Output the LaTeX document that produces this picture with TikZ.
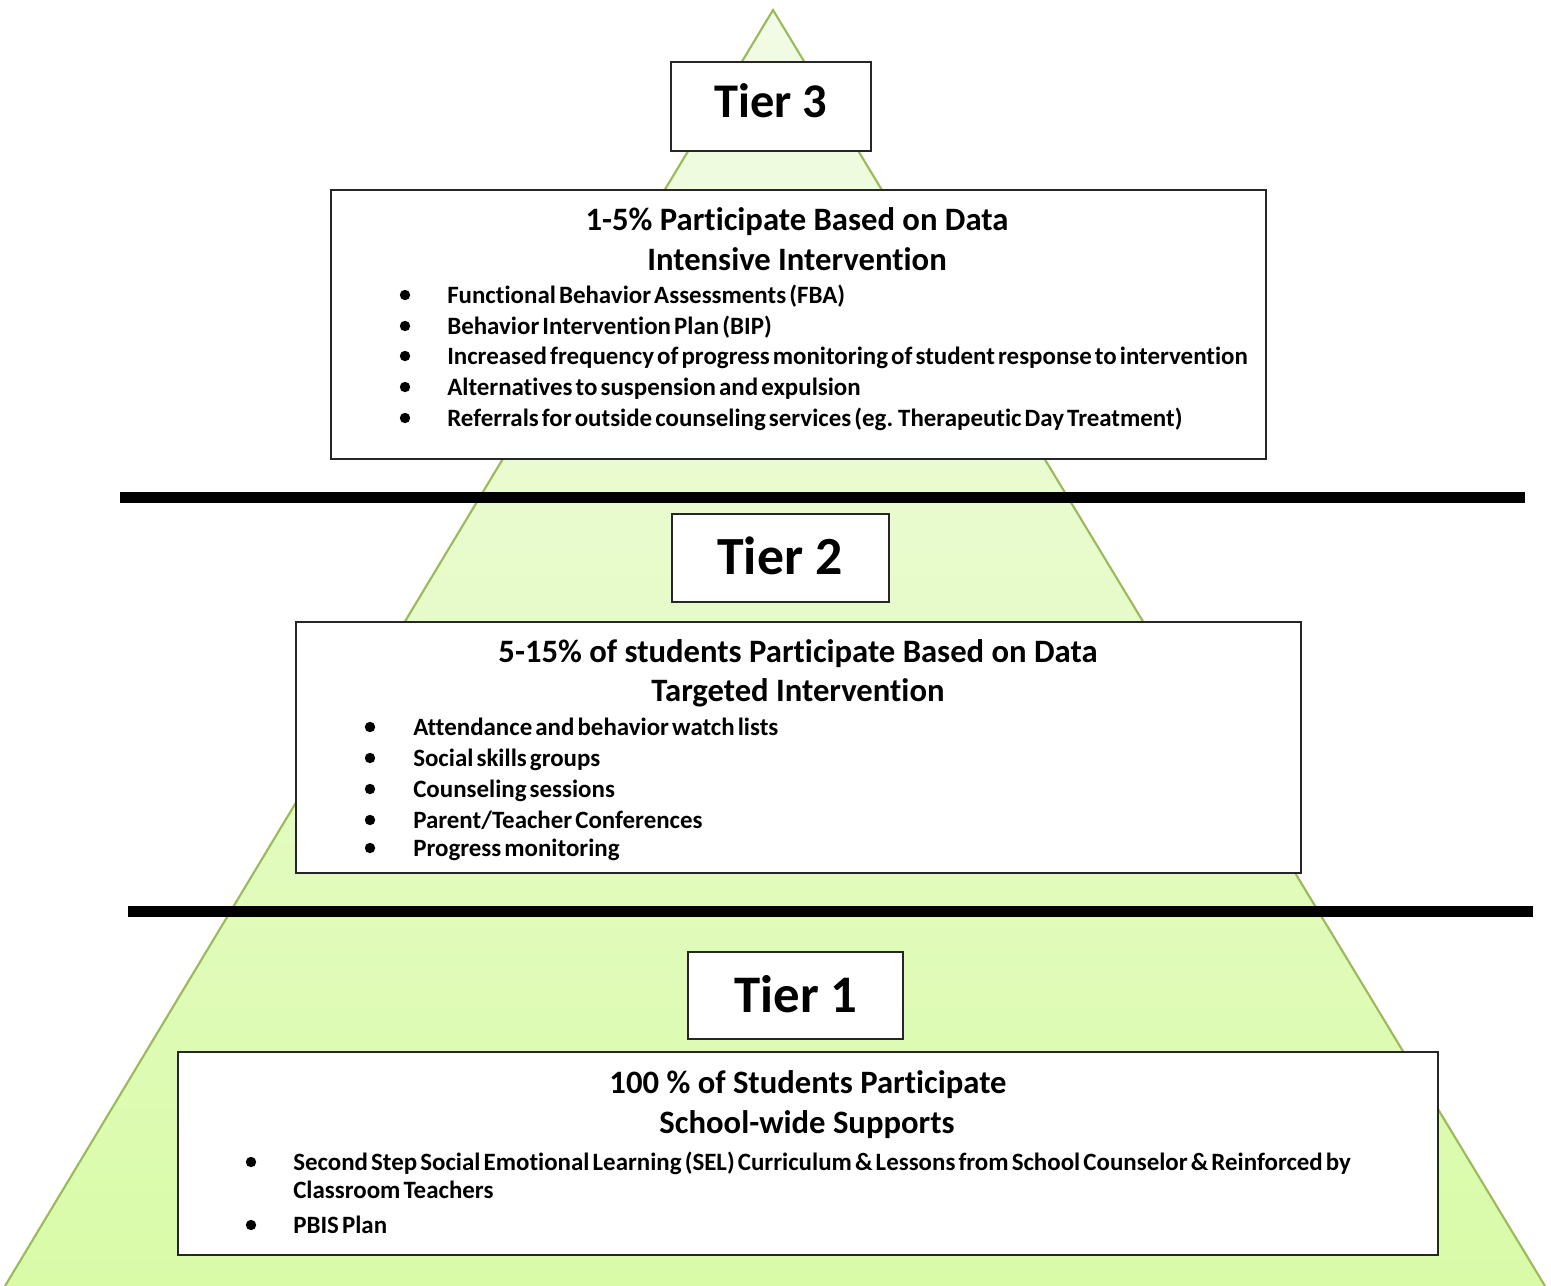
\documentclass[tikz,border=0pt]{standalone}
\usepackage{fontspec}
\setmainfont{Carlito}[Ligatures=NoCommon]
\newfontfamily\tightfont{Carlito}[WordSpace=0.55, Ligatures=NoCommon]
\definecolor{pyrtop}{RGB}{242,251,230}
\definecolor{pyrbot}{RGB}{217,251,168}
\definecolor{pyredge}{RGB}{155,187,89}
\tikzset{
  box/.style={draw=black!85, line width=1.6pt, fill=white, inner sep=0pt, outer sep=0pt, anchor=north west},
  tierlabel/.style={font=\bfseries\fontsize{40.3}{42}\selectfont, anchor=base, inner sep=0pt},
  heading/.style={font=\bfseries\fontsize{24.5}{28}\selectfont, anchor=base, inner sep=0pt},
  item/.style={font=\tightfont\bfseries\fontsize{18.7}{22}\selectfont, anchor=base west, inner sep=0pt},
  dot/.style={circle, fill=black, inner sep=0pt, minimum size=7.8pt},
  bar/.style={line width=8.3pt, black},
}
\begin{document}
\begin{tikzpicture}[x=0.75pt, y=-0.75pt]
\useasboundingbox (0,0) rectangle (1551,1285);
\begin{scope}
\clip (0,0) rectangle (1551,1285);
\coordinate (apex) at (773,10);
\coordinate (bl) at (5,1286);
\coordinate (br) at (1545,1286);
\shade[top color=pyrtop, bottom color=pyrbot] (apex) -- (br) -- (bl) -- cycle;
\draw[pyredge, line width=1.6pt] (bl) -- (apex) -- (br);
\end{scope}
% bars
\coordinate (b1l) at (120,497.5); \coordinate (b1r) at (1525,497.5);
\coordinate (b2l) at (128,911.5); \coordinate (b2r) at (1533,911.5);
\draw[bar] (b1l) -- (b1r);
\draw[bar] (b2l) -- (b2r);
% Tier 3
\node[box, minimum width=200*0.75pt, minimum height=89*0.75pt] (t3box) at (671,62) {};
\node[tierlabel, font=\bfseries\fontsize{36.3}{40}\selectfont] (t3) at (771,117) {Tier 3};
\node[box, minimum width=935*0.75pt, minimum height=269*0.75pt] (boxA) at (331,190) {};
\node[heading] (hA1) at (797,230.5) {1-5\% Participate Based on Data};
\node[heading] (hA2) at (797,270.5) {Intensive Intervention};
\foreach \y/\t [count=\i] in {295/{Functional Behavior Assessments (FBA)},326/{Behavior Intervention Plan (BIP)},356/{Increased frequency of progress monitoring of student response to intervention},387/{Alternatives to suspension and expulsion},418/{Referrals for outside counseling services (eg. Therapeutic Day Treatment)}}{
  \node[dot] (dA\i) at (405,\y) {};
  \node[item] (iA\i) at (447,\y+8) {\t};
}
% Tier 2
\node[box, minimum width=217*0.75pt, minimum height=88*0.75pt] (t2box) at (672,514) {};
\node[tierlabel] (t2) at (780,574) {Tier 2};
\node[box, minimum width=1005*0.75pt, minimum height=251*0.75pt] (boxB) at (296,622) {};
\node[heading] (hB1) at (798,662.5) {5-15\% of students Participate Based on Data};
\node[heading] (hB2) at (798,701.5) {Targeted Intervention};
\foreach \y/\t [count=\i] in {727/{Attendance and behavior watch lists},758/{Social skills groups},789/{Counseling sessions},820/{Parent/Teacher Conferences},848/{Progress monitoring}}{
  \node[dot] (dB\i) at (370,\y) {};
  \node[item] (iB\i) at (413,\y+8) {\t};
}
% Tier 1
\node[box, minimum width=215*0.75pt, minimum height=87*0.75pt] (t1box) at (688,952) {};
\node[tierlabel, font=\bfseries\fontsize{39.6}{42}\selectfont] (t1) at (796,1012) {Tier 1};
\node[box, minimum width=1260*0.75pt, minimum height=203*0.75pt] (boxC) at (178,1052) {};
\node[heading] (hC1) at (808,1093.5) {100 \% of Students Participate};
\node[heading] (hC2) at (807,1133.5) {School-wide Supports};
\node[dot] (dC1) at (251,1162) {};
\node[item] (iC1) at (293,1170) {Second Step Social Emotional Learning (SEL) Curriculum \& Lessons from School Counselor \& Reinforced by};
\node[item] (iC1b) at (293,1198) {Classroom Teachers};
\node[dot] (dC2) at (251,1225) {};
\node[item] (iC2) at (293,1233) {PBIS Plan};
\end{tikzpicture}
\end{document}
